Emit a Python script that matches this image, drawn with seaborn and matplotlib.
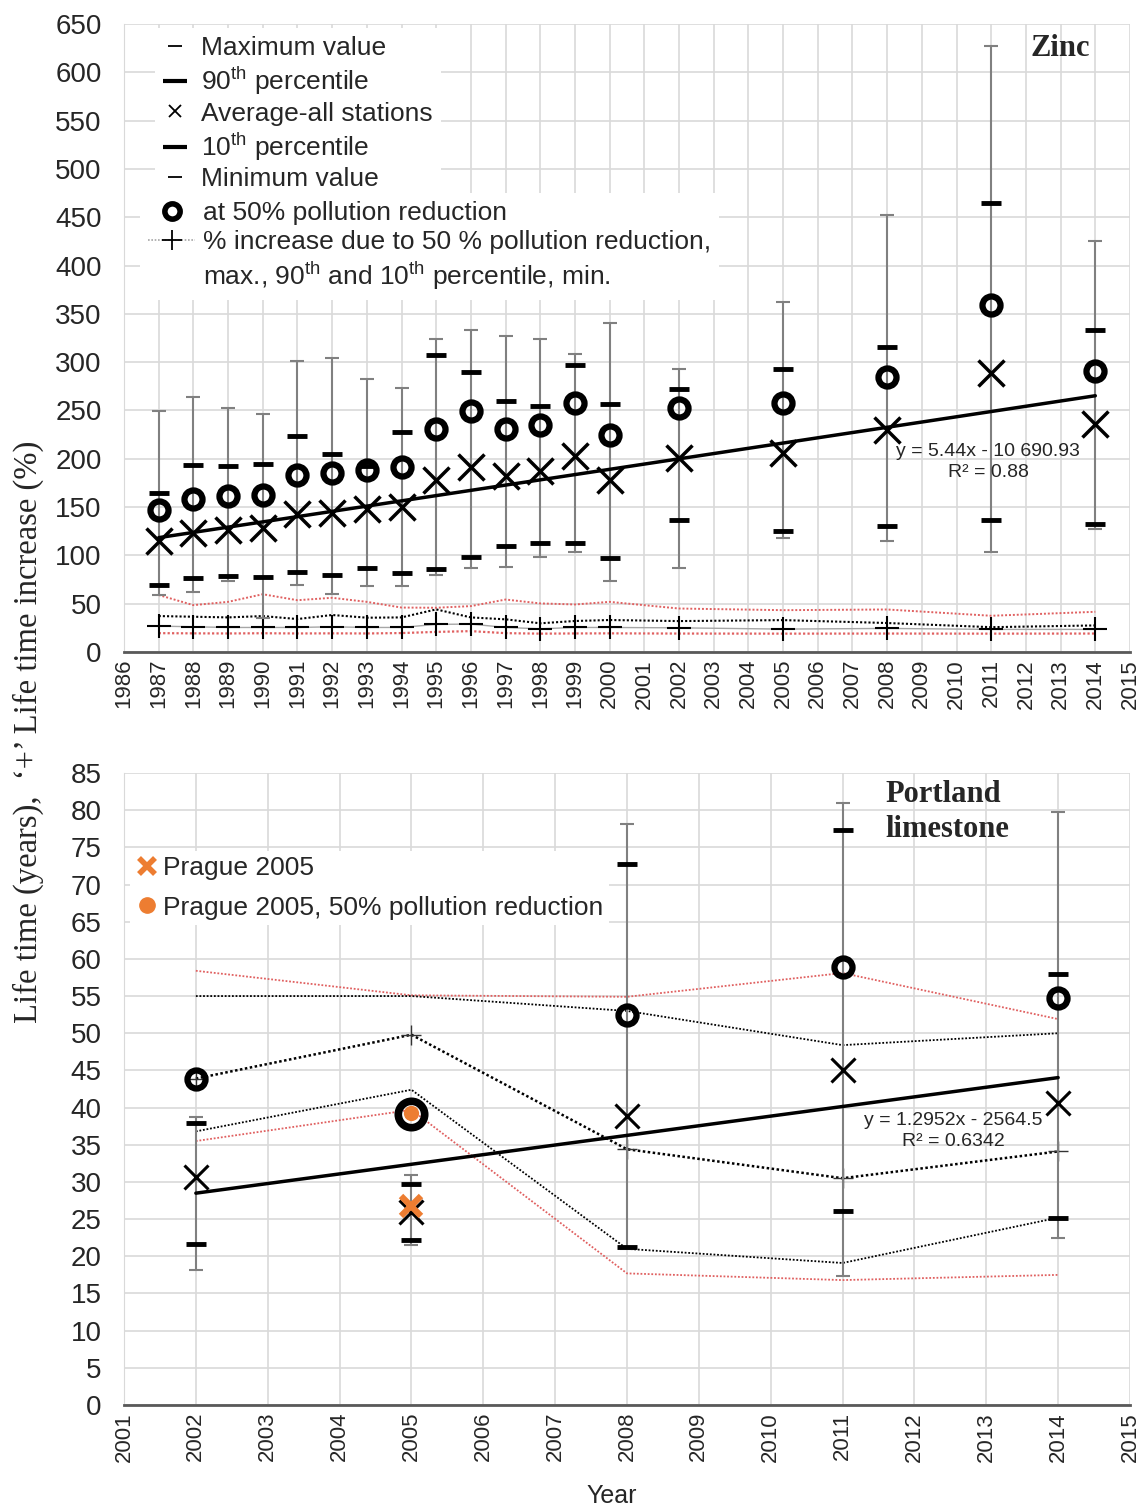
import numpy as np
import matplotlib
matplotlib.use('Agg')
import matplotlib.pyplot as plt
import seaborn as sns
from matplotlib.lines import Line2D

# ---------------- Zinc (top panel) ----------------
zn_years = [1987, 1988, 1989, 1990, 1991, 1992, 1993, 1994, 1995, 1996, 1997,
            1998, 1999, 2000, 2002, 2005, 2008, 2011, 2014]
zn_max = [249, 264, 253, 246, 301, 304, 283, 273, 324, 333, 327, 324, 308, 341,
          293, 362, 452, 627, 425]
zn_p90 = [165, 194, 192, 195, 224, 205, 193, 228, 307, 290, 260, 255, 297, 257,
          272, 293, 316, 465, 333]
zn_avg = [115, 123, 126, 128, 143, 144, 148, 150, 178, 191, 182, 187, 203, 178,
          201, 206, 230, 289, 236]
zn_red50 = [147, 158, 161, 163, 183, 185, 188, 191, 231, 249, 231, 235, 258, 225,
            253, 258, 285, 359, 291]
zn_p10 = [69, 77, 79, 78, 83, 80, 87, 82, 86, 98, 110, 113, 113, 97,
          137, 125, 130, 137, 133]
zn_min = [59, 62, 74, 35, 69, 60, 68, 68, 80, 87, 88, 98, 103, 74,
          87, 118, 115, 103, 127]
# % increase due to 50 % pollution reduction
zn_inc_max = [59.0, 48.5, 51.9, 59.8, 53.6, 56.1, 51.9, 46.0, 45.8, 47.5, 54.3,
              50.3, 49.2, 51.9, 45.0, 43.3, 44.0, 37.5, 41.6]
zn_inc_p90 = [37.2, 36.5, 35.8, 37.2, 34.1, 38.3, 35.5, 35.8, 44.1, 35.8, 33.8,
              29.7, 32.1, 33.1, 32.0, 33.0, 30.0, 25.7, 27.5]
zn_inc_p10 = [26.8, 26.1, 25.4, 25.4, 25.4, 26.1, 25.4, 25.4, 28.6, 28.9, 25.4,
              24.0, 25.4, 25.4, 25.0, 23.7, 24.4, 23.4, 23.4]
zn_inc_min = [19.5, 19.3, 19.2, 19.4, 19.2, 19.3, 19.2, 19.6, 20.8, 21.6, 19.5,
              19.0, 19.2, 19.3, 19.1, 19.0, 19.1, 19.0, 19.1]
zn_trend = (5.44, -10690.93)

# ---------------- Portland limestone (bottom panel) ----------------
pl_years = [2002, 2005, 2008, 2011, 2014]
pl_max = [38.8, 31.0, 78.1, 80.9, 79.7]
pl_p90 = [37.9, 29.7, 72.7, 77.4, 57.9]
pl_avg = [30.7, 25.9, 38.9, 45.0, 40.6]
pl_red50 = [43.9, 39.1, 52.4, 58.9, 54.7]
pl_p10 = [21.7, 22.2, 21.2, 26.1, 25.2]
pl_min = [18.2, 21.5, 21.0, 17.3, 22.5]
pl_inc_max = [58.4, 55.1, 54.9, 58.1, 51.9]
pl_inc_p90 = [55.0, 55.0, 53.0, 48.4, 50.0]
pl_inc_mid = [43.9, 49.8, 34.4, 30.5, 34.1]
pl_inc_p10 = [36.8, 42.4, 21.0, 19.1, 25.2]
pl_inc_min = [35.5, 39.7, 17.7, 16.8, 17.5]
pl_trend = (1.2952, -2564.5)
prague_year = [2005]
prague_val = [26.8]
prague_red50 = [39.3]

ORANGE = '#ED7D31'
RED = '#e06060'
GRID = '#d9d9d9'
DOT = (0, (1, 1))

sns.set_style('whitegrid')
plt.rcParams['font.family'] = ['Liberation Sans', 'DejaVu Sans']
plt.rcParams['mathtext.fontset'] = 'custom'
plt.rcParams['mathtext.rm'] = 'Liberation Sans'

W, H = 1147, 1511
fig = plt.figure(figsize=(W / 100, H / 100), dpi=100)
ax1 = fig.add_axes([124 / W, 1 - 652 / H, 1006 / W, 628 / H])
ax2 = fig.add_axes([124 / W, 1 - 1405 / H, 1006 / W, 632 / H])


def marks(ax, x, y, **kw):
    sns.lineplot(x=x, y=y, ax=ax, errorbar=None, linestyle='none', **kw)


def dotted(ax, x, y, color, lw=1.5, z=2):
    sns.lineplot(x=x, y=y, ax=ax, errorbar=None, color=color, lw=lw,
                 linestyle=DOT, zorder=z)


def whiskers(ax, x, vmin, p10, p90, vmax):
    ax.vlines(x, vmin, vmax, color='#808080', lw=1.5, zorder=3)
    for v in (vmin, vmax):
        marks(ax, x, v, marker='_', markersize=10, mew=1.5, mec='#808080',
              color='#808080', zorder=3)
    for v in (p10, p90):
        marks(ax, x, v, marker='_', markersize=14, mew=3.5, mec='black',
              color='black', zorder=4)


def trend(ax, x, coef):
    xs = [x[0], x[-1]]
    ys = [coef[0] * xs[0] + coef[1], coef[0] * xs[1] + coef[1]]
    sns.lineplot(x=xs, y=ys, ax=ax, color='black', lw=2.5, zorder=5)


def style(ax, x0, x1, ytop, ystep):
    ax.set_xlim(x0, x1)
    ax.set_ylim(0, ytop)
    ax.set_xticks(np.arange(x0, x1 + 1))
    ax.set_yticks(np.arange(0, ytop + 1, ystep))
    ax.grid(True, color=GRID, lw=1.2)
    ax.set_axisbelow(True)
    ax.tick_params(axis='x', labelrotation=90, labelsize=16, length=0, pad=5)
    ax.tick_params(axis='y', labelsize=20, length=0, pad=16)
    ax.spines['top'].set_visible(False)
    ax.spines['right'].set_visible(False)
    ax.spines['left'].set_color(GRID)
    ax.spines['bottom'].set_color('#595959')
    ax.spines['bottom'].set_linewidth(2)
    ax.set_xlabel('')
    ax.set_ylabel('')


# ---- top panel ----
dotted(ax1, zn_years, zn_inc_max, RED, lw=1.4)
dotted(ax1, zn_years, zn_inc_p90, 'black', lw=1.5)
dotted(ax1, zn_years, zn_inc_min, RED, lw=1.6)
sns.lineplot(x=zn_years, y=zn_inc_p10, ax=ax1, errorbar=None, color='#a6a6a6',
             lw=1.0, marker='+', markersize=17, mew=1.5, mec='black', zorder=3)
whiskers(ax1, zn_years, zn_min, zn_p10, zn_p90, zn_max)
trend(ax1, zn_years, zn_trend)
marks(ax1, zn_years, zn_avg, marker='x', markersize=19, mew=2.5, mec='black',
      color='black', zorder=6)
marks(ax1, zn_years, zn_red50, marker='o', markersize=13, mew=4.5, mec='black',
      mfc='none', color='black', zorder=6)
style(ax1, 1986, 2015, 650, 50)

# ---- bottom panel ----
dotted(ax2, pl_years, pl_inc_max, RED, lw=1.3)
dotted(ax2, pl_years, pl_inc_p90, 'black', lw=1.3)
dotted(ax2, pl_years, pl_inc_p10, 'black', lw=1.3)
dotted(ax2, pl_years, pl_inc_min, RED, lw=1.3)
sns.lineplot(x=pl_years, y=pl_inc_mid, ax=ax2, errorbar=None, color='black',
             lw=1.8, linestyle=DOT, marker='+', markersize=15, mew=1.0,
             mec='#333333', zorder=3)
whiskers(ax2, pl_years, pl_min, pl_p10, pl_p90, pl_max)
trend(ax2, pl_years, pl_trend)
marks(ax2, pl_years, pl_avg, marker='x', markersize=17, mew=2.2, mec='black',
      color='black', zorder=6)
marks(ax2, pl_years[:1] + pl_years[2:], pl_red50[:1] + pl_red50[2:], marker='o',
      markersize=13, mew=4.5, mec='black', mfc='none', color='black', zorder=6)
marks(ax2, pl_years[1:2], pl_red50[1:2], marker='o', markersize=19, mew=5.5,
      mec='black', mfc='none', color='black', zorder=6)
marks(ax2, prague_year, prague_val, marker='x', markersize=15, mew=4.5,
      mec=ORANGE, color=ORANGE, zorder=7)
marks(ax2, prague_year, prague_red50, marker='o', markersize=11, mew=0,
      mec=ORANGE, mfc=ORANGE, color=ORANGE, zorder=7)
style(ax2, 2001, 2015, 85, 5)

# ---- legends ----
leg_kw = dict(bbox_transform=fig.transFigure, loc='upper left', borderaxespad=0,
              frameon=True, framealpha=1, fancybox=False, edgecolor='none',
              fontsize=19)
thin = dict(ls='none', marker='_', markersize=10, mew=1.3, color='black')
thick = dict(ls='none', marker='_', markersize=17, mew=3, color='black')
h_a = [Line2D([], [], **thin), Line2D([], [], **thick),
       Line2D([], [], ls='none', marker='x', markersize=9, mew=1.3, color='black'),
       Line2D([], [], **thick), Line2D([], [], **thin)]
l_a = ['Maximum value', '90$^{\\mathrm{th}}$ percentile', 'Average-all stations',
       '10$^{\\mathrm{th}}$ percentile', 'Minimum value']
leg_a = ax1.legend(h_a, l_a, bbox_to_anchor=(155 / W, 1 - 28 / H), borderpad=0.3,
                   handlelength=0.9, handletextpad=0.55, labelspacing=0.17, **leg_kw)
leg_a.set_zorder(20)
ax1.add_artist(leg_a)

h_b = [Line2D([], [], ls='none', marker='o', markersize=11, mew=4, mec='black',
              mfc='none'),
       Line2D([], [], color='#a6a6a6', lw=1.2, ls=DOT, marker='+', markersize=14,
              mew=1.3, mec='black'),
       Line2D([], [], ls='none')]
l_b = ['at 50% pollution reduction', '% increase due to 50 % pollution reduction,',
       'max., 90$^{\\mathrm{th}}$ and 10$^{\\mathrm{th}}$ percentile, min.']
leg_b = ax1.legend(h_b, l_b, bbox_to_anchor=(140 / W, 1 - 193 / H), borderpad=0.3,
                   handlelength=1.8, handletextpad=0.3, labelspacing=0.2, **leg_kw)
leg_b.set_zorder(20)

h_c = [Line2D([], [], ls='none', marker='x', markersize=12, mew=4, color=ORANGE),
       Line2D([], [], ls='none', marker='o', markersize=11, color=ORANGE)]
l_c = ['Prague 2005', 'Prague 2005, 50% pollution reduction']
leg_c = ax2.legend(h_c, l_c, bbox_to_anchor=(130 / W, 1 - 851 / H), borderpad=0.2,
                   handlelength=0.9, handletextpad=0.15, labelspacing=0.58, **leg_kw)
leg_c.set_zorder(20)

# ---- texts ----
serif = ['Liberation Serif', 'DejaVu Serif']
fig.text(1030 / W, 1 - 48 / H, 'Zinc', family=serif, weight='bold', fontsize=22,
         va='center', ha='left')
fig.text(885 / W, 1 - 812 / H, 'Portland\nlimestone', family=serif, weight='bold',
         fontsize=22, va='center', ha='left', linespacing=1.28)
fig.text(988 / W, 1 - 462 / H, 'y = 5.44x - 10 690.93\nR² = 0.88', fontsize=14,
         ha='center', va='center', multialignment='center', linespacing=1.3)
fig.text(953 / W, 1 - 1131 / H, 'y = 1.2952x - 2564.5\nR² = 0.6342', fontsize=14,
         ha='center', va='center', multialignment='center', linespacing=1.3)
fig.text(612 / W, 1 - 1496 / H, 'Year', fontsize=18, ha='center', va='center')
fig.text(28 / W, 1 - 732 / H, 'Life time (years),  \u2018+\u2019 Life time increase (%)',
         family=serif, fontsize=23.5, rotation=90, ha='center', va='center')

fig.savefig('out.png', dpi=100)
